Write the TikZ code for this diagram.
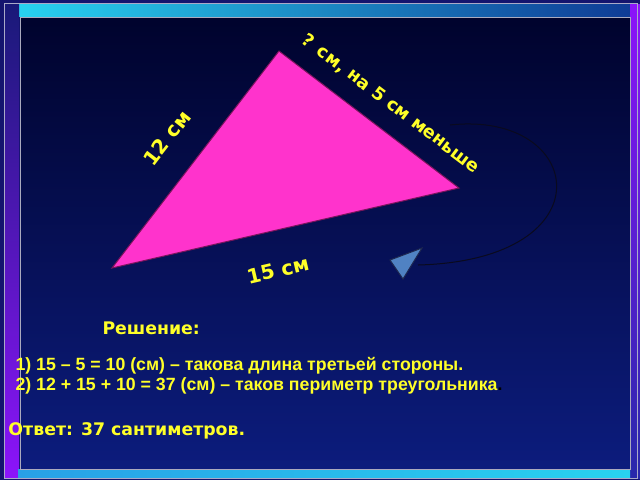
\documentclass[tikz,border=0pt]{standalone}
\usepackage{fontspec}
\newfontfamily\labelfont{DejaVu Sans}
\newfontfamily\linefont{Liberation Sans}
\usepackage{tikz}
\tikzset{every picture/.style={line width=0.75pt}}
\tikzset{
  sidelabel/.style={text={rgb,255:red,255;green,255;blue,40}, font=\labelfont\bfseries\fontsize{15}{17}\selectfont, inner sep=0.75pt},
  longlabel/.style={sidelabel, font=\labelfont\bfseries\fontsize{13.3}{15}\selectfont},
  textlabel/.style={sidelabel, anchor=west, font=\labelfont\bfseries\fontsize{13}{15}\selectfont},
  solveline/.style={anchor=west, text={rgb,255:red,255;green,255;blue,40}, font=\linefont\bfseries\fontsize{13.3}{15}\selectfont, inner sep=0.75pt}
}

\begin{document}
\begin{tikzpicture}[x=0.75pt,y=0.75pt,yscale=-1,xscale=1]
\useasboundingbox (0,0) rectangle (640,480);
% frame
\fill [color={rgb, 255:red, 20; green, 20; blue, 110 }] (0,0) rectangle (640,480);
\shade [left color={rgb, 255:red, 40; green, 210; blue, 240 }, right color={rgb, 255:red, 15; green, 60; blue, 150 }] (18,4) rectangle (630,16);
\shade [top color={rgb, 255:red, 25; green, 25; blue, 120 }, bottom color={rgb, 255:red, 140; green, 20; blue, 250 }] (5,4) rectangle (19,478);
\shade [top color={rgb, 255:red, 140; green, 20; blue, 250 }, bottom color={rgb, 255:red, 40; green, 40; blue, 170 }] (630,4) rectangle (640,478);
\shade [left color={rgb, 255:red, 40; green, 160; blue, 230 }, right color={rgb, 255:red, 40; green, 210; blue, 240 }] (18,469) rectangle (630,478);
\draw [color={rgb, 255:red, 170; green, 170; blue, 200 }] (4,3) rectangle (637,478);
\shade [top color={rgb, 255:red, 0; green, 3; blue, 45 }, bottom color={rgb, 255:red, 12; green, 28; blue, 125 }, draw={rgb, 255:red, 170; green, 170; blue, 190 }] (20,17) rectangle (630,469);
% triangle
\coordinate (left) at (112,268);
\coordinate (top) at (279,51);
\coordinate (right) at (459,188);
\draw [color={rgb, 255:red, 120; green, 20; blue, 90 }, fill={rgb, 255:red, 255; green, 51; blue, 204 }] (left) -- (top) -- (right) -- cycle;
\node [sidelabel, rotate=52] (sideA) at (167,138) {12 см};
\node [longlabel, rotate=-37] (sideB) at (391,104) {? см, на 5 см меньше};
\node [sidelabel, rotate=13] (sideC) at (278,270) {15 см};
% turning arrow
\coordinate (arcstart) at (450,125);
\coordinate (arcend) at (418,265);
\draw [color={rgb, 255:red, 10; green, 10; blue, 30 }] (arcstart) .. controls (585,110) and (610,260) .. (arcend);
\draw [color={rgb, 255:red, 30; green, 40; blue, 80 }, fill={rgb, 255:red, 80; green, 130; blue, 195 }] (390,260) -- (422,248) -- (403,279) -- cycle;
% solution
\node [textlabel] (solve) at (101,328) {Решение:};
\node [solveline] (step1) at (14,366) {1) 15 – 5 = 10 (см) – такова длина третьей стороны.};
\node [solveline] (step2) at (14,386) {2) 12 + 15 + 10 = 37 (см) – таков периметр треугольника{\color{black}.}};
\node [textlabel] (answer) at (7,431) {Ответ: 37 сантиметров.};
\end{tikzpicture}
\end{document}
